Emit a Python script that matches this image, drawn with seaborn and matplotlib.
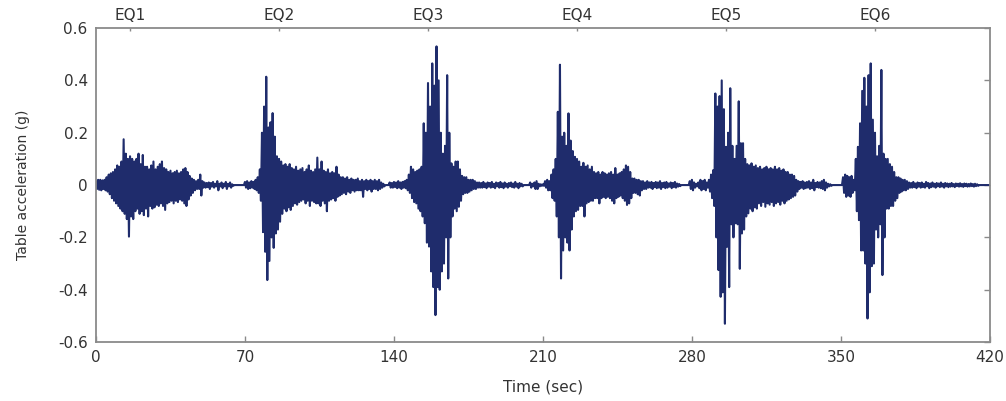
import numpy as np
import pandas as pd
import matplotlib
matplotlib.use("Agg")
import matplotlib.pyplot as plt
import seaborn as sns
from matplotlib.ticker import FuncFormatter

# ---------------- data ----------------
# each event: start time (s), upper peaks and lower peaks per second
x_ticks = [0, 70, 140, 210, 280, 350, 420]
y_ticks = [-0.6, -0.4, -0.2, 0.0, 0.2, 0.4, 0.6]
eq_labels = ["EQ1", "EQ2", "EQ3", "EQ4", "EQ5", "EQ6"]
eq_label_pos = [16, 86, 156, 226, 296, 366]

eq1_start = 0
eq1_up = [0.015, 0.02, 0.02, 0.018, 0.02, 0.03, 0.04, 0.045, 0.05, 0.06,
          0.075, 0.07, 0.09, 0.175, 0.12, 0.10, 0.11, 0.10, 0.09, 0.10,
          0.12, 0.08, 0.115, 0.07, 0.07, 0.06, 0.075, 0.09, 0.06, 0.07,
          0.08, 0.09, 0.065, 0.06, 0.05, 0.055, 0.045, 0.05, 0.055, 0.045,
          0.05, 0.06, 0.065, 0.05, 0.035, 0.025, 0.02, 0.015, 0.02, 0.04,
          0.015, 0.01, 0.008, 0.01, 0.008, 0.012, 0.005, 0.015, 0.005, 0.01,
          0.005, 0.012, 0.005, 0.01, 0.003]
eq1_dn = [-0.015, -0.018, -0.02, -0.015, -0.02, -0.025, -0.035, -0.05, -0.06, -0.07,
          -0.08, -0.09, -0.10, -0.11, -0.13, -0.197, -0.12, -0.13, -0.10, -0.09,
          -0.11, -0.10, -0.115, -0.09, -0.12, -0.08, -0.09, -0.085, -0.075, -0.08,
          -0.07, -0.08, -0.095, -0.07, -0.065, -0.06, -0.07, -0.06, -0.065, -0.055,
          -0.06, -0.07, -0.08, -0.055, -0.04, -0.03, -0.02, -0.015, -0.015, -0.04,
          -0.01, -0.01, -0.008, -0.015, -0.006, -0.01, -0.005, -0.02, -0.005, -0.012,
          -0.005, -0.015, -0.005, -0.01, -0.003]

eq2_start = 70
eq2_up = [0.012, 0.015, 0.01, 0.015, 0.012, 0.02,
          0.03, 0.06, 0.2, 0.3, 0.414, 0.22, 0.24, 0.275, 0.185, 0.11,
          0.1, 0.09, 0.075, 0.08, 0.07, 0.08, 0.065, 0.06, 0.07, 0.055,
          0.06, 0.065, 0.05, 0.06, 0.075, 0.055, 0.05, 0.06, 0.105, 0.06,
          0.09, 0.055, 0.05, 0.06, 0.045, 0.05, 0.045, 0.07, 0.04, 0.03,
          0.03, 0.025, 0.03, 0.02, 0.025, 0.02, 0.02, 0.025, 0.015, 0.02,
          0.015, 0.02, 0.015, 0.02, 0.015, 0.02, 0.015, 0.02, 0.01, 0.005]
eq2_dn = [-0.01, -0.015, -0.012, -0.01, -0.015, -0.02,
          -0.03, -0.06, -0.18, -0.255, -0.363, -0.29, -0.2, -0.24, -0.185, -0.17,
          -0.14, -0.11, -0.09, -0.1, -0.085, -0.095, -0.08, -0.07, -0.075, -0.065,
          -0.06, -0.055, -0.07, -0.06, -0.08, -0.06, -0.065, -0.07, -0.07, -0.08,
          -0.06, -0.07, -0.1, -0.06, -0.055, -0.05, -0.06, -0.045, -0.04, -0.035,
          -0.03, -0.035, -0.025, -0.03, -0.02, -0.025, -0.02, -0.02, -0.02, -0.045,
          -0.015, -0.02, -0.015, -0.025, -0.015, -0.015, -0.02, -0.015, -0.01, -0.005]

eq3_start = 138
eq3_up = [0.01, 0.008, 0.012, 0.01, 0.015, 0.01, 0.012, 0.015, 0.02,
          0.04, 0.07, 0.06, 0.05, 0.055, 0.06, 0.07, 0.236, 0.2, 0.39,
          0.3, 0.465, 0.38, 0.53, 0.40, 0.2, 0.12, 0.15, 0.42, 0.2,
          0.083, 0.07, 0.09, 0.09, 0.06, 0.035, 0.03, 0.03, 0.02, 0.02,
          0.02, 0.015, 0.01,
          0.01, 0.008, 0.012, 0.006, 0.01, 0.008, 0.012, 0.005, 0.01, 0.008,
          0.012, 0.006, 0.01, 0.005, 0.008, 0.01, 0.006, 0.012, 0.005, 0.008, 0.005]
eq3_dn = [-0.01, -0.01, -0.008, -0.012, -0.01, -0.015, -0.01, -0.012, -0.02,
          -0.03, -0.05, -0.065, -0.07, -0.09, -0.1, -0.12, -0.146, -0.22, -0.235,
          -0.33, -0.39, -0.497, -0.39, -0.40, -0.33, -0.30, -0.2, -0.357, -0.2,
          -0.12, -0.09, -0.1, -0.083, -0.06, -0.035, -0.03, -0.03, -0.025, -0.02,
          -0.015, -0.015, -0.01,
          -0.01, -0.01, -0.008, -0.012, -0.006, -0.01, -0.008, -0.012, -0.005, -0.01,
          -0.008, -0.012, -0.006, -0.01, -0.005, -0.008, -0.01, -0.006, -0.012, -0.005, -0.005]

eq4_start = 204
eq4_up = [0.01, 0.005, 0.01, 0.015, 0.005, 0.003, 0.003, 0.015, 0.02, 0.015,
          0.04, 0.06, 0.1, 0.28, 0.46, 0.185, 0.2, 0.15, 0.274, 0.17,
          0.13, 0.108, 0.1, 0.09, 0.07, 0.085, 0.07, 0.075, 0.06, 0.07,
          0.05, 0.045, 0.05, 0.04, 0.05, 0.045, 0.04, 0.045, 0.05, 0.04,
          0.065, 0.04, 0.045, 0.05, 0.06, 0.075, 0.07, 0.05, 0.025, 0.025,
          0.02, 0.02, 0.015, 0.015, 0.01, 0.015,
          0.01, 0.012, 0.008, 0.012, 0.01, 0.015, 0.008, 0.01, 0.012, 0.006,
          0.01, 0.008, 0.012, 0.006, 0.004]
eq4_dn = [-0.01, -0.005, -0.015, -0.015, -0.005, -0.003, -0.003, -0.01, -0.02, -0.02,
          -0.05, -0.06, -0.12, -0.2, -0.357, -0.25, -0.2, -0.22, -0.25, -0.17,
          -0.12, -0.1, -0.095, -0.08, -0.08, -0.12, -0.07, -0.065, -0.06, -0.06,
          -0.05, -0.05, -0.07, -0.05, -0.045, -0.05, -0.045, -0.05, -0.06, -0.07,
          -0.05, -0.045, -0.04, -0.05, -0.06, -0.076, -0.07, -0.05, -0.03, -0.03,
          -0.035, -0.04, -0.02, -0.015, -0.015, -0.01,
          -0.01, -0.015, -0.008, -0.012, -0.01, -0.015, -0.008, -0.012, -0.01, -0.006,
          -0.012, -0.008, -0.01, -0.006, -0.004]

eq5_start = 279
eq5_up = [0.015, 0.02, 0.01, 0.005, 0.01, 0.02, 0.015, 0.02, 0.01, 0.02,
          0.04, 0.057, 0.35, 0.3, 0.34, 0.40, 0.29, 0.146, 0.2, 0.37,
          0.15, 0.1, 0.15, 0.32, 0.16, 0.16, 0.1, 0.08, 0.075, 0.083,
          0.07, 0.075, 0.065, 0.07, 0.06, 0.065, 0.07, 0.06, 0.065, 0.06,
          0.07, 0.06, 0.065, 0.055, 0.06, 0.05, 0.05, 0.04, 0.04, 0.035,
          0.02,
          0.015, 0.012, 0.015, 0.01, 0.012, 0.015, 0.01, 0.02, 0.008, 0.012,
          0.01, 0.015, 0.02, 0.01, 0.005, 0.003]
eq5_dn = [-0.015, -0.02, -0.01, -0.005, -0.012, -0.02, -0.015, -0.02, -0.01, -0.025,
          -0.05, -0.08, -0.2, -0.325, -0.427, -0.41, -0.53, -0.236, -0.39, -0.15,
          -0.2, -0.146, -0.15, -0.32, -0.185, -0.17, -0.12, -0.108, -0.09, -0.1,
          -0.085, -0.09, -0.07, -0.08, -0.065, -0.083, -0.07, -0.075, -0.065, -0.08,
          -0.07, -0.065, -0.075, -0.06, -0.07, -0.06, -0.055, -0.05, -0.045, -0.04,
          -0.025,
          -0.015, -0.01, -0.015, -0.012, -0.01, -0.015, -0.012, -0.02, -0.008, -0.01,
          -0.012, -0.015, -0.02, -0.01, -0.005, -0.003]

eq6_start = 351
eq6_up = [0.03, 0.04, 0.035, 0.03, 0.035, 0.02, 0.1, 0.146, 0.236, 0.36,
          0.41, 0.3, 0.42, 0.465, 0.25, 0.2, 0.11, 0.15, 0.44, 0.12,
          0.1, 0.1, 0.08, 0.07, 0.05, 0.03, 0.03, 0.025, 0.02, 0.02,
          0.015,
          0.01, 0.008, 0.012, 0.006, 0.01, 0.008, 0.01, 0.005, 0.012, 0.008,
          0.006, 0.01, 0.005, 0.008, 0.006, 0.01, 0.005, 0.008, 0.006, 0.005,
          0.008, 0.004, 0.006, 0.005, 0.007, 0.004, 0.006, 0.005, 0.004, 0.006,
          0.004, 0.005, 0.003]
eq6_dn = [-0.03, -0.045, -0.04, -0.045, -0.03, -0.02, -0.1, -0.134, -0.25, -0.25,
          -0.3, -0.51, -0.41, -0.31, -0.3, -0.17, -0.2, -0.15, -0.344, -0.2,
          -0.09, -0.09, -0.08, -0.08, -0.06, -0.05, -0.03, -0.025, -0.02, -0.02,
          -0.015,
          -0.01, -0.01, -0.008, -0.012, -0.006, -0.01, -0.008, -0.01, -0.005, -0.012,
          -0.008, -0.006, -0.01, -0.005, -0.008, -0.006, -0.01, -0.005, -0.008, -0.006,
          -0.005, -0.008, -0.004, -0.006, -0.005, -0.007, -0.004, -0.006, -0.005, -0.004,
          -0.006, -0.004, -0.003]

segments = [(eq1_start, eq1_up, eq1_dn), (eq2_start, eq2_up, eq2_dn),
            (eq3_start, eq3_up, eq3_dn), (eq4_start, eq4_up, eq4_dn),
            (eq5_start, eq5_up, eq5_dn), (eq6_start, eq6_up, eq6_dn)]

# ---------------- assemble the record ----------------
dt = 0.5
t_full = np.arange(0, 420 + dt / 2, dt)
acc = np.zeros_like(t_full)
for start, up, dn in segments:
    vals = np.empty(2 * len(up))
    vals[0::2] = up
    vals[1::2] = dn
    i0 = int(round(start / dt))
    acc[i0:i0 + len(vals)] = vals
df = pd.DataFrame({"time": t_full, "acc": acc})

# ---------------- plot ----------------
sns.set_theme(style="white")
plt.rcParams["font.family"] = ["DejaVu Sans"]
plt.rcParams["axes.unicode_minus"] = False

spine_col = "#8a8a8a"
text_col = "#333333"
line_col = "#1f2c6c"

fig = plt.figure(figsize=(10.06, 4.01), dpi=100)
ax = fig.add_axes([0.0954, 0.147, 0.8886, 0.783])
sns.lineplot(data=df, x="time", y="acc", estimator=None, sort=False,
             color=line_col, lw=1.5, ax=ax)

ax.set_xlim(0, 420)
ax.set_ylim(-0.6, 0.6)
ax.set_xticks(x_ticks)
ax.set_yticks(y_ticks)
ax.yaxis.set_major_formatter(FuncFormatter(lambda v, p: "0" if abs(v) < 1e-9 else f"{v:.1f}"))
ax.set_xlabel("Time (sec)", fontsize=11, color=text_col, labelpad=10)
ax.set_ylabel("Table acceleration (g)", fontsize=10, color=text_col, labelpad=20)
ax.tick_params(axis="both", direction="in", length=4, width=1, color=spine_col,
               labelsize=11, labelcolor=text_col, top=True, right=True)
ax.tick_params(axis="x", pad=6)
ax.tick_params(axis="y", pad=6)
for s in ax.spines.values():
    s.set_color(spine_col)
    s.set_linewidth(1.3)

ax2 = ax.twiny()
ax2.set_xlim(0, 420)
ax2.set_xticks(eq_label_pos)
ax2.set_xticklabels(eq_labels)
ax2.tick_params(axis="x", direction="in", length=2, width=1, color=spine_col,
                labelsize=11, labelcolor=text_col, pad=4)
for s in ax2.spines.values():
    s.set_visible(False)

fig.savefig("out.png", dpi=100)
